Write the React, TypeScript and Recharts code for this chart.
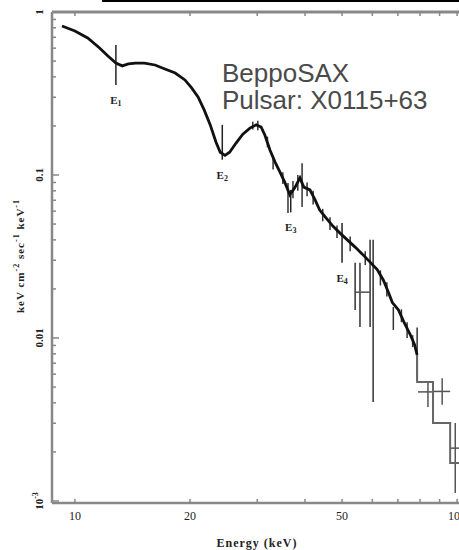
import {
  ComposedChart,
  Line,
  Scatter,
  ErrorBar,
  XAxis,
  YAxis,
  ReferenceLine,
} from "recharts";

// continuum model traced through the spectrum (keV, photon flux)
const curveEnergy = [
  9.25, 10.0, 10.8, 11.6, 12.2, 12.8, 13.3, 13.8, 14.4, 15.2, 16.2, 17.2, 18.3,
  19.4, 20.2, 21.0, 21.8, 22.6, 23.4, 24.0, 24.7, 25.4, 26.4, 27.5, 28.7, 29.8,
  30.7, 31.4, 32.4, 33.4, 34.4, 35.4, 36.5, 37.6, 38.8, 39.7, 41.2, 42.5, 43.7,
  45.4, 47.3, 49.4, 51.6, 54.1, 56.5, 59.2, 61.8, 64.1, 66.1, 67.7, 70.2, 72.5,
  75.4, 77.4, 78.6,
];
const curveFlux = [
  0.82, 0.765, 0.693, 0.601, 0.537, 0.486, 0.467, 0.48, 0.486, 0.486, 0.473,
  0.447, 0.422, 0.383, 0.342, 0.301, 0.25, 0.203, 0.159, 0.138, 0.132, 0.138,
  0.157, 0.178, 0.194, 0.203, 0.197, 0.176, 0.142, 0.12, 0.104, 0.0904, 0.0755,
  0.0834, 0.096, 0.0843, 0.081, 0.0703, 0.0609, 0.0546, 0.0486, 0.044, 0.04,
  0.0361, 0.0327, 0.0292, 0.0263, 0.0227, 0.0191, 0.0165, 0.0149, 0.0126,
  0.0105, 0.0091, 0.00787,
];

// high-energy binned part, drawn as steps
const stepEnergy = [78.6, 78.6, 86.5, 86.5, 95.9, 95.9, 103];
const stepFlux = [0.00787, 0.00537, 0.00537, 0.00301, 0.00301, 0.00171, 0.00171];

// data points with vertical error bars
const pointEnergy = [
  29.2, 30.1, 31.9, 33.0, 35.0, 36.1, 37.2, 38.3, 39.3, 40.5, 42.0, 44.5, 46.5,
  48.5, 52.5, 54.1, 55.7, 57.5, 59.2, 60.3, 63.0, 65.5, 68.1, 71.5, 74.0, 76.5,
  78.6,
];
const pointFlux = [
  0.2, 0.201, 0.16, 0.118, 0.096, 0.075, 0.082, 0.09, 0.085, 0.082, 0.073,
  0.057, 0.05, 0.045, 0.038, 0.0191, 0.0191, 0.031, 0.02, 0.012, 0.023, 0.02,
  0.0132, 0.0137, 0.0112, 0.0096, 0.008,
];
const pointLow = [
  0.19, 0.188, 0.148, 0.108, 0.088, 0.0585, 0.072, 0.08, 0.0636, 0.074, 0.066,
  0.052, 0.046, 0.041, 0.034, 0.01485, 0.01168, 0.028, 0.01168, 0.00405, 0.021,
  0.018, 0.0112, 0.0125, 0.01, 0.0088, 0.0055,
];
const pointHigh = [
  0.212, 0.215, 0.172, 0.128, 0.104, 0.0893, 0.092, 0.1, 0.118, 0.09, 0.08,
  0.062, 0.055, 0.049, 0.042, 0.0289, 0.0289, 0.034, 0.04, 0.04, 0.026, 0.022,
  0.0155, 0.015, 0.0125, 0.0104, 0.0116,
];

// wide bins with energy and flux errors
const crossEnergy = [56.5, 83.9, 91.4, 98.9];
const crossFlux = [0.0191, 0.00467, 0.0047, 0.00211];
const crossEnergyLow = [54.1, 79.0, 86.5, 95.9];
const crossEnergyHigh = [59.2, 86.5, 95.9, 103];
const crossFluxLow = [0.0191, 0.00377, 0.0039, 0.00112];
const crossFluxHigh = [0.0191, 0.00537, 0.00566, 0.00301];

// cyclotron line markers E1..E4
const lineEnergy = [12.8, 24.3, 36.7, 50.0];
const lineTop = [0.627, 0.203, 0.081, 0.0508];
const lineBottom = [0.356, 0.124, 0.059, 0.0289];
const lineIndex = ["1", "2", "3", "4"];

const xTicks = [10, 20, 30, 40, 50, 60, 70, 80, 90, 100];
const xLabelled = [10, 20, 50, 100];
const yTicks = [
  0.001, 0.002, 0.003, 0.004, 0.005, 0.006, 0.007, 0.008, 0.009,
  0.01, 0.02, 0.03, 0.04, 0.05, 0.06, 0.07, 0.08, 0.09,
  0.1, 0.2, 0.3, 0.4, 0.5, 0.6, 0.7, 0.8, 0.9, 1,
];
const yMajor = [0.001, 0.01, 0.1, 1];

const curve = curveEnergy.map((e, i) => ({ e, f: curveFlux[i] }));
const steps = stepEnergy.map((e, i) => ({ e, f: stepFlux[i] }));
const points = pointEnergy.map((e, i) => ({
  e,
  f: pointFlux[i],
  ey: [pointFlux[i] - pointLow[i], pointHigh[i] - pointFlux[i]],
}));
const crosses = crossEnergy.map((e, i) => ({
  e,
  f: crossFlux[i],
  ex: [e - crossEnergyLow[i], crossEnergyHigh[i] - e],
  ey: [crossFlux[i] - crossFluxLow[i], crossFluxHigh[i] - crossFlux[i]],
}));

const AXIS = "#888";
const INK = "#222";
const SERIF = "'Liberation Serif', 'DejaVu Serif', serif";

function BottomTick({ x, y, payload }: any) {
  const v = payload.value;
  return (
    <g>
      <line x1={x} y1={y} x2={x} y2={y - 4} stroke={AXIS} strokeWidth={1.5} />
      {xLabelled.includes(v) && (
        <text x={x} y={y + 17} textAnchor="middle" fontFamily={SERIF} fontSize={12} fill={INK}>
          {v}
        </text>
      )}
    </g>
  );
}

function TopTick({ x, y }: any) {
  return <line x1={x} y1={y} x2={x} y2={y + 4} stroke={AXIS} strokeWidth={1.5} />;
}

function LeftTick({ x, y, payload }: any) {
  const v = payload.value;
  const major = yMajor.includes(v);
  const lx = x - 13;
  return (
    <g>
      <line x1={x} y1={y} x2={x + (major ? 7 : 4)} y2={y} stroke={AXIS} strokeWidth={1.5} />
      {major && (
        <text
          x={lx}
          y={y}
          transform={`rotate(-90, ${lx}, ${y})`}
          textAnchor="middle"
          dominantBaseline="central"
          fontFamily={SERIF}
          fontWeight="bold"
          fontSize={11}
          fill={INK}
        >
          {v === 0.001 ? (
            <>
              10<tspan fontSize={8} dy={-4}>-3</tspan>
            </>
          ) : (
            String(v)
          )}
        </text>
      )}
    </g>
  );
}

function lineLabel(idx: string) {
  return ({ viewBox }: any) => (
    <text
      x={viewBox.x}
      y={viewBox.y + viewBox.height + 19}
      textAnchor="middle"
      fontFamily={SERIF}
      fontWeight="bold"
      fontSize={11}
      fill={INK}
    >
      E<tspan fontSize={8} dy={2}>{idx}</tspan>
    </text>
  );
}

const titleStyle = {
  position: "absolute" as const,
  left: 222,
  fontFamily: "'Liberation Sans', Arial, sans-serif",
  fontSize: 26,
  lineHeight: "24px",
  color: "#4a4a4a",
  whiteSpace: "nowrap" as const,
};

export default function App() {
  return (
    <div
      style={{
        position: "absolute",
        left: 0,
        top: 0,
        width: 459,
        height: 550,
        overflow: "hidden",
        background: "#fff",
      }}
    >
      <div style={{ position: "absolute", left: 102, top: 0, width: 357, height: 2, background: "#000" }} />
      <ComposedChart width={470} height={550} margin={{ top: 10, right: 8, bottom: 17, left: 12 }}>
        <XAxis
          dataKey="e"
          type="number"
          scale="log"
          domain={[8.71, 103]}
          allowDataOverflow
          ticks={xTicks}
          interval={0}
          tickSize={0}
          tickMargin={0}
          tickLine={false}
          tick={BottomTick}
          axisLine={{ stroke: AXIS, strokeWidth: 2.5 }}
          height={30}
          label={{
            value: "Energy (keV)",
            position: "insideBottom",
            offset: -14,
            style: { fontFamily: SERIF, fontWeight: "bold", fontSize: 12, fill: INK, letterSpacing: 1 },
          }}
        />
        <XAxis
          xAxisId="top"
          dataKey="e"
          orientation="top"
          type="number"
          scale="log"
          domain={[8.71, 103]}
          allowDataOverflow
          ticks={xTicks}
          interval={0}
          tickSize={0}
          tickMargin={0}
          tickLine={false}
          tick={TopTick}
          axisLine={{ stroke: AXIS, strokeWidth: 3 }}
          height={2}
        />
        <YAxis
          type="number"
          scale="log"
          domain={[0.000972, 1]}
          allowDataOverflow
          ticks={yTicks}
          interval={0}
          tickSize={0}
          tickMargin={0}
          tickLine={false}
          tick={LeftTick}
          axisLine={{ stroke: AXIS, strokeWidth: 2.5 }}
          width={40}
          label={{
            content: () => (
              <text
                x={20}
                y={256}
                transform="rotate(-90, 20, 256)"
                textAnchor="middle"
                dominantBaseline="central"
                fontFamily={SERIF}
                fontWeight="bold"
                fontSize={11}
                fill={INK}
                letterSpacing={1}
              >
                keV cm<tspan fontSize={8} dy={-4}>-2</tspan>
                <tspan dy={4}> sec</tspan>
                <tspan fontSize={8} dy={-4}>-1</tspan>
                <tspan dy={4}> keV</tspan>
                <tspan fontSize={8} dy={-4}>-1</tspan>
              </text>
            ),
          }}
        />
        {lineEnergy.map((e, i) => (
          <ReferenceLine
            key={e}
            segment={[
              { x: e, y: lineTop[i] },
              { x: e, y: lineBottom[i] },
            ]}
            stroke={INK}
            strokeWidth={1.5}
            ifOverflow="visible"
            label={{ content: lineLabel(lineIndex[i]) }}
          />
        ))}
        <Scatter data={points} dataKey="f" fill="none" shape={() => null} isAnimationActive={false}>
          <ErrorBar dataKey="ey" direction="y" width={0} stroke="#333" strokeWidth={1.5} />
        </Scatter>
        <Scatter data={crosses} dataKey="f" fill="none" shape={() => null} isAnimationActive={false}>
          <ErrorBar dataKey="ey" direction="y" width={0} stroke="#555" strokeWidth={1.5} />
          <ErrorBar dataKey="ex" direction="x" width={0} stroke="#555" strokeWidth={1.5} />
        </Scatter>
        <Line
          data={curve}
          dataKey="f"
          type="linear"
          stroke="#111"
          strokeWidth={2.8}
          dot={false}
          isAnimationActive={false}
        />
        <Line
          data={steps}
          dataKey="f"
          type="linear"
          stroke="#666"
          strokeWidth={2}
          dot={false}
          isAnimationActive={false}
        />
      </ComposedChart>
      <div style={{ ...titleStyle, top: 61 }}>BeppoSAX</div>
      <div style={{ ...titleStyle, top: 88 }}>Pulsar: X0115+63</div>
    </div>
  );
}
